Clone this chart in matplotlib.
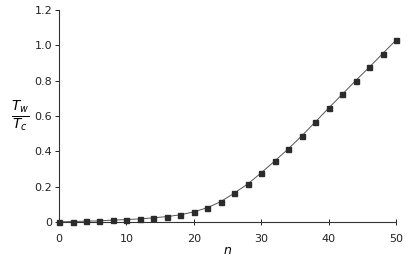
import matplotlib
matplotlib.use("Agg")
import matplotlib.pyplot as plt
from matplotlib.ticker import FuncFormatter

# data
n_vals = [0, 2, 4, 6, 8, 10, 12, 14, 16, 18, 20, 22, 24, 26,
          28, 30, 32, 34, 36, 38, 40, 42, 44, 46, 48, 50]
ratio = [0.0, 0.002, 0.004, 0.006, 0.010, 0.013, 0.017, 0.023, 0.030, 0.040,
         0.057, 0.080, 0.115, 0.163, 0.215, 0.278, 0.345, 0.413, 0.487,
         0.565, 0.645, 0.722, 0.800, 0.875, 0.953, 1.030]
x_ticks = [0, 10, 20, 30, 40, 50]
y_ticks = [0, 0.2, 0.4, 0.6, 0.8, 1.0, 1.2]

fig = plt.figure(figsize=(4.1, 2.58), dpi=100)
ax = fig.add_axes([0.144, 0.14, 0.822, 0.821])

ax.plot(n_vals, ratio, color="#555555", lw=0.7, marker="s", ms=3.6,
        mfc="#2b2b2b", mec="#2b2b2b", clip_on=False, zorder=3)

ax.set_xlim(0, 50)
ax.set_ylim(0, 1.2)
ax.set_xticks(x_ticks)
ax.set_yticks(y_ticks)
ax.yaxis.set_major_formatter(FuncFormatter(lambda v, p: "0" if v == 0 else f"{v:.1f}"))

for s in ["top", "right"]:
    ax.spines[s].set_visible(False)
for s in ["left", "bottom"]:
    ax.spines[s].set_linewidth(0.8)
    ax.spines[s].set_color("#333333")

ax.tick_params(axis="x", direction="inout", length=5, width=0.7, labelsize=8, pad=6, colors="#222222")
ax.tick_params(axis="y", direction="out", length=3, width=0.7, labelsize=8, pad=2, colors="#222222")

ax.set_xlabel("$n$", fontsize=9, labelpad=0)
ax.text(-5.8, 0.6, r"$\frac{T_w}{T_c}$", fontsize=14, ha="center", va="center")

fig.savefig("out.png", dpi=100)
